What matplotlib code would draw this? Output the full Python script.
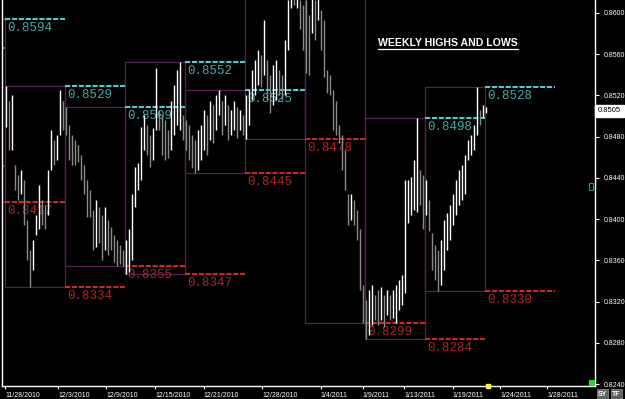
import matplotlib
matplotlib.use('Agg')
import matplotlib.pyplot as plt
import matplotlib.transforms as mtransforms
from matplotlib.patches import Rectangle
from matplotlib.lines import Line2D
import numpy as np

# weekly high / low, first entry is two weeks before the first visible week
week_high = [0.8566, 0.8594, 0.8529, 0.8509, 0.8552, 0.8525, 0.8630, 0.8625, 0.8498, 0.8528]
week_low = [0.8452, 0.8417, 0.8334, 0.8355, 0.8347, 0.8445, 0.8478, 0.8299, 0.8284, 0.8330]
week_first = -2
bars_per_week = 20

# bar highs, one row per week
bar_high = [
    0.8529, 0.8515, 0.8520, 0.8453, 0.8443, 0.8448, 0.8438, 0.8399, 0.8370, 0.8380,
    0.8404, 0.8433, 0.8419, 0.8414, 0.8448, 0.8486, 0.8477, 0.8482, 0.8525, 0.8515,
    0.8509, 0.8491, 0.8482, 0.8477, 0.8472, 0.8462, 0.8453, 0.8438, 0.8428, 0.8409,
    0.8419, 0.8412, 0.8404, 0.8412, 0.8399, 0.8392, 0.8385, 0.8380, 0.8375, 0.8370,
    0.8380, 0.8390, 0.8424, 0.8451, 0.8454, 0.8489, 0.8501, 0.8491, 0.8482, 0.8488,
    0.8547, 0.8506, 0.8501, 0.8496, 0.8486, 0.8515, 0.8530, 0.8545, 0.8552, 0.8501,
    0.8496, 0.8491, 0.8482, 0.8477, 0.8486, 0.8491, 0.8506, 0.8501, 0.8515, 0.8511,
    0.8520, 0.8525, 0.8515, 0.8520, 0.8511, 0.8506, 0.8515, 0.8509, 0.8506, 0.8501,
    0.8520, 0.8525, 0.8545, 0.8554, 0.8564, 0.8559, 0.8593, 0.8554, 0.8540, 0.8550,
    0.8554, 0.8545, 0.8540, 0.8574, 0.8613, 0.8630, 0.8625, 0.8628, 0.8613, 0.8608,
    0.8613, 0.8598, 0.8622, 0.8613, 0.8618, 0.8603, 0.8593, 0.8545, 0.8540, 0.8525,
    0.8515, 0.8491, 0.8482, 0.8467, 0.8424, 0.8424, 0.8419, 0.8409, 0.8390, 0.8336,
    0.8322, 0.8331, 0.8336, 0.8326, 0.8331, 0.8334, 0.8326, 0.8331, 0.8326, 0.8331,
    0.8336, 0.8341, 0.8346, 0.8438, 0.8438, 0.8441, 0.8457, 0.8498, 0.8448, 0.8443,
    0.8438, 0.8419, 0.8387, 0.8375, 0.8370, 0.8380, 0.8399, 0.8406, 0.8414, 0.8424,
    0.8438, 0.8448, 0.8453, 0.8462, 0.8477, 0.8482, 0.8491, 0.8528, 0.8506, 0.8511,
    0.8509,
]
bar_low = [
    0.8489, 0.8467, 0.8467, 0.8428, 0.8419, 0.8424, 0.8394, 0.8360, 0.8334, 0.8351,
    0.8385, 0.8390, 0.8394, 0.8390, 0.8404, 0.8448, 0.8453, 0.8457, 0.8482, 0.8486,
    0.8482, 0.8457, 0.8453, 0.8453, 0.8455, 0.8438, 0.8424, 0.8402, 0.8402, 0.8370,
    0.8373, 0.8377, 0.8360, 0.8370, 0.8365, 0.8370, 0.8358, 0.8355, 0.8356, 0.8355,
    0.8347, 0.8349, 0.8360, 0.8412, 0.8428, 0.8438, 0.8467, 0.8462, 0.8451, 0.8457,
    0.8486, 0.8486, 0.8462, 0.8457, 0.8459, 0.8467, 0.8482, 0.8491, 0.8486, 0.8477,
    0.8467, 0.8457, 0.8450, 0.8445, 0.8448, 0.8457, 0.8467, 0.8462, 0.8477, 0.8474,
    0.8486, 0.8501, 0.8482, 0.8491, 0.8477, 0.8482, 0.8486, 0.8479, 0.8486, 0.8482,
    0.8478, 0.8491, 0.8516, 0.8520, 0.8530, 0.8528, 0.8540, 0.8516, 0.8503, 0.8511,
    0.8516, 0.8520, 0.8516, 0.8520, 0.8564, 0.8605, 0.8608, 0.8605, 0.8584, 0.8564,
    0.8542, 0.8540, 0.8581, 0.8574, 0.8593, 0.8564, 0.8538, 0.8522, 0.8520, 0.8486,
    0.8482, 0.8474, 0.8448, 0.8428, 0.8394, 0.8399, 0.8394, 0.8380, 0.8331, 0.8299,
    0.8284, 0.8288, 0.8297, 0.8302, 0.8297, 0.8302, 0.8295, 0.8307, 0.8302, 0.8304,
    0.8299, 0.8312, 0.8317, 0.8328, 0.8396, 0.8404, 0.8409, 0.8407, 0.8414, 0.8390,
    0.8404, 0.8388, 0.8351, 0.8341, 0.8330, 0.8336, 0.8351, 0.8370, 0.8380, 0.8394,
    0.8404, 0.8414, 0.8419, 0.8424, 0.8457, 0.8462, 0.8467, 0.8482, 0.8491, 0.8499,
    0.8503,
]
last_price = 0.8505

date_labels = ['11/28/2010', '12/3/2010', '12/9/2010', '12/15/2010', '12/21/2010',
               '12/28/2010', '1/4/2011', '1/9/2011', '1/13/2011', '1/19/2011',
               '1/24/2011', '1/28/2011']
date_pos = [-0.5, 17.2, 33.2, 49.5, 65.8, 85.2, 104.8, 118.8, 132.5, 148.8, 164.5, 180.2]

box_c = '#552255'
cyan_line = '#55c8c8'
cyan_text = '#44a8a8'
red_line = '#c82828'
red_text = '#a82828'

xmin, xmax = -1.5, 196.17
ymin, ymax = 0.82381, 0.86126

fig = plt.figure(figsize=(6.25, 3.99), dpi=100, facecolor='black')
ax = fig.add_axes([2 / 625, 13 / 399, 593 / 625, 386 / 399])
ax.set_facecolor('black')

# bars, gray when the bar sits lower than the one before
hi = np.array(bar_high)
lo = np.array(bar_low)
xs = np.arange(len(hi))
mid = (hi + lo) / 2
down = np.r_[False, mid[1:] < mid[:-1]]
cols = np.where(down, '#8a8a8a', '#ffffff')
ax.vlines(xs, lo, hi, colors=cols, lw=1.0, zorder=5)

lbl_off = mtransforms.offset_copy(ax.transData, fig=fig, x=2, y=-3, units='dots')
n = len(week_high)
for k in range(n):
    wk = week_first + k
    x0 = wk * bars_per_week - 0.5
    ax.add_patch(Rectangle((x0, week_low[k]), bars_per_week, week_high[k] - week_low[k],
                           fill=False, ec=box_c, lw=0.9, zorder=1))
    # previous week's levels carried across the next week
    s = (wk + 1) * bars_per_week - 0.5
    e = s + bars_per_week + (3.5 if k == n - 1 else 0)
    ax.hlines(week_high[k], s, e, color=cyan_line, lw=1.5, ls=(0, (2.5, 0.8)), zorder=2)
    ax.hlines(week_low[k], s, e, color=red_line, lw=1.5, ls=(0, (2.5, 0.8)), zorder=2)
    if s < xmin:
        continue
    for val, c in [(week_high[k], cyan_text), (week_low[k], red_text)]:
        if val < ymax - 0.001:
            ax.text(s, val, '%.4f' % val, transform=lbl_off, color=c, fontsize=9,
                    family='Liberation Mono', va='top', ha='left', zorder=3)

ax.set_xlim(xmin, xmax)
ax.set_ylim(ymin, ymax)

ax.spines['top'].set_visible(False)
for side in ['left', 'bottom', 'right']:
    ax.spines[side].set_color('white')
    ax.spines[side].set_linewidth(1)

yt = np.arange(0.8240, 0.86001, 0.004)
ax.yaxis.tick_right()
ax.set_yticks(yt)
ax.set_yticklabels(['%.4f' % v for v in yt])
ax.tick_params(axis='y', colors='white', labelsize=5, length=3, width=0.8, pad=3)
ax.set_xticks(date_pos)
ax.set_xticklabels(date_labels)
ax.tick_params(axis='x', colors='white', labelsize=5, length=2.5, width=0.8, pad=1.5)
for t in ax.get_xticklabels():
    t.set_ha('left')
for t in ax.get_xticklabels() + ax.get_yticklabels():
    t.set_family('Liberation Sans')

# current price tag
tr = mtransforms.blended_transform_factory(ax.transAxes, ax.transData)
ax.text(1.005, last_price, '%.4f' % last_price, transform=tr, color='black', fontsize=5.5,
        family='Liberation Sans', va='center', ha='left', clip_on=False,
        bbox=dict(boxstyle='square,pad=0.35', fc='white', ec='white'))

# small markers
ax.plot([len(hi) - 0.5], [ymin], marker='s', ms=3, color='#ffff40', clip_on=False, zorder=6)
fig.add_artist(Rectangle((589 / 625, 13 / 399), 6 / 625, 6 / 399, transform=fig.transFigure,
                         fc='#22dd22', ec='none'))
fig.add_artist(Rectangle((589 / 625, 209 / 399), 4 / 625, 7 / 399, transform=fig.transFigure,
                         fc='none', ec='#22bb22', lw=0.7))
fig.text(598 / 625, 5 / 399, 'SY', color='white', fontsize=5, family='Liberation Sans',
         weight='bold', va='center', bbox=dict(boxstyle='square,pad=0.15', fc='#606060', ec='#999999', lw=0.5))
fig.text(612 / 625, 5 / 399, 'TF', color='white', fontsize=5, family='Liberation Sans',
         weight='bold', va='center', bbox=dict(boxstyle='square,pad=0.15', fc='#606060', ec='#999999', lw=0.5))

title = fig.text(378 / 625, 1 - 43 / 399, 'WEEKLY HIGHS AND LOWS', color='white', fontsize=7.6,
                 family='Liberation Sans', weight='bold', va='center', ha='left')
fig.canvas.draw()
bb = title.get_window_extent(fig.canvas.get_renderer())
fig.add_artist(Line2D([bb.x0, bb.x1], [bb.y0 - 1, bb.y0 - 1], color='white', lw=0.9,
                      transform=mtransforms.IdentityTransform()))

fig.savefig('out.png', dpi=100, facecolor='black')
